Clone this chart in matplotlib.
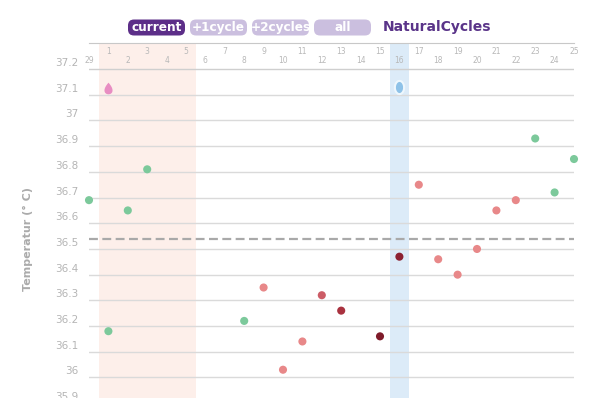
import numpy as np
import matplotlib
matplotlib.use('Agg')
import matplotlib.pyplot as plt
import matplotlib.transforms as mtransforms
from matplotlib.patches import FancyBboxPatch
from matplotlib.path import Path

# cycle days shown on the chart (29 = last day of previous cycle)
day_labels = ['29'] + [str(d) for d in range(1, 26)]
temps = [36.69, 36.18, 36.65, 36.81, None, None, None, None, 36.22, 36.35,
         36.03, 36.14, 36.32, 36.26, None, 36.16, 36.47, 36.75, 36.46, 36.40,
         36.50, 36.65, 36.69, 36.93, 36.72, 36.85]
point_colors = ['#7cc99b', '#7cc99b', '#7cc99b', '#7cc99b', None, None, None, None,
                '#7cc99b', '#e88889', '#e88889', '#e88889', '#cc5c66', '#a9323f',
                None, '#7f1b2a', '#8c2232', '#e88889', '#e88889', '#e88889',
                '#e88889', '#e88889', '#e88889', '#7cc99b', '#7cc99b', '#7cc99b']
period_start, period_end = 1, 5
ovulation_day = 16
coverline = 36.54
grid_values = [36.0, 36.1, 36.2, 36.3, 36.4, 36.5, 36.6, 36.7, 36.8, 36.9, 37.0, 37.1, 37.2]
extra_label = 35.9
buttons = ['current', '+1cycle', '+2cycles', 'all']
brand = 'NaturalCycles'

fig = plt.figure(figsize=(6, 3.98), dpi=100)
ax = fig.add_axes([89 / 600, 0, 485 / 600, 355 / 398])
ax.set_xlim(0, len(day_labels) - 1)
ax.set_ylim(35.920, 37.3016)
ax.set_xticks([])
ax.set_yticks([])
for s in ['left', 'right', 'bottom']:
    ax.spines[s].set_visible(False)
ax.spines['top'].set_color('#c8c8c8')

# period and ovulation bands
ax.axvspan(period_start - 0.5, period_end + 0.5, color='#fdefea', zorder=0, lw=0)
ax.axvspan(ovulation_day - 0.5, ovulation_day + 0.5, color='#dcebf8', zorder=0, lw=0)

# grid lines + labels sitting on top of them
lab_trans = mtransforms.offset_copy(
    mtransforms.blended_transform_factory(ax.transAxes, ax.transData),
    fig=fig, x=-11, y=3, units='dots')
for v in grid_values:
    ax.axhline(v, color='#cfcfcf' if v == 37.2 else '#dadada', lw=1, zorder=1)
for v in grid_values + [extra_label]:
    ax.text(0, v, f'{v:g}', transform=lab_trans, ha='right', va='baseline',
            fontsize=7.5, color='#b5b5b5', clip_on=False)

# day numbers in the header, alternating rows
for i, lab in enumerate(day_labels):
    y = 37.2704 if i % 2 == 1 else 37.2354
    ax.text(i, y, lab, ha='center', va='center', fontsize=5.5, color='#b8b8b8')

ax.axhline(coverline, color='#a9a9a9', lw=1.6, ls=(0, (4, 2)), zorder=2)

xs = [i for i, t in enumerate(temps) if t is not None]
ys = [t for t in temps if t is not None]
cs = [point_colors[i] for i in xs]
ax.scatter(xs, ys, s=34, c=cs, zorder=3, clip_on=False, linewidths=0)

# icons: drop for period start, egg for ovulation
t = np.linspace(0, 2 * np.pi, 60)
drop = Path(np.column_stack([np.sin(t) * np.sin(t / 2) * 0.9, np.cos(t)]))
ax.scatter([period_start], [37.126], marker=drop, s=70, color='#e88dc2', zorder=4, linewidths=0)
egg = Path(np.column_stack([0.7 * np.cos(t), np.sin(t)]))
ax.scatter([ovulation_day], [37.13], marker=egg, s=90, color='#8ec2e8',
           edgecolors='#eef7fd', linewidths=1.5, zorder=4)

fig.text(28 / 600, 1 - 239 / 398, 'Temperatur (° C)', rotation=90, ha='center',
         va='center', fontsize=8, fontweight='bold', color='#ababab')

# header buttons
over = fig.add_axes([0, 0, 1, 1])
over.set_xlim(0, 600)
over.set_ylim(398, 0)
over.axis('off')
btn_x = [128, 190, 252, 314]
for i, (name, x0) in enumerate(zip(buttons, btn_x)):
    col = '#5c2e88' if i == 0 else '#cbbfdf'
    p = FancyBboxPatch((x0, 19.5), 57, 16, boxstyle='round,pad=0,rounding_size=6',
                       fc=col, ec='none')
    over.add_patch(p)
    tx = over.text(x0 + 28.5, 27.5, name, ha='center', va='center', fontsize=8.7,
                   fontweight='bold', color='white')
    tx.set_clip_path(p)
over.text(383, 27.5, brand, ha='left', va='center', fontsize=10,
          fontweight='bold', color='#5a3489')

fig.savefig('out.png', dpi=100)
